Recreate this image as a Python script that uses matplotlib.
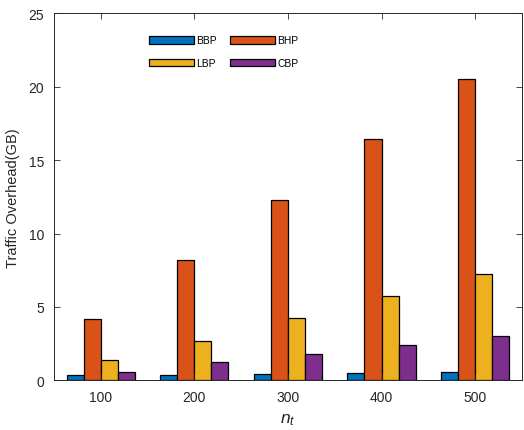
import matplotlib
matplotlib.use("Agg")
import matplotlib.pyplot as plt
import numpy as np

plt.rcParams["font.family"] = ["Liberation Sans", "DejaVu Sans"]
plt.rcParams["mathtext.fontset"] = "custom"
plt.rcParams["mathtext.it"] = "Liberation Sans:italic"
plt.rcParams["mathtext.rm"] = "Liberation Sans"

# traffic overhead per scheme for each n_t
n_t = [100, 200, 300, 400, 500]
bbp = [0.35, 0.35, 0.45, 0.50, 0.55]
bhp = [4.15, 8.20, 12.30, 16.45, 20.50]
lbp = [1.38, 2.70, 4.22, 5.77, 7.25]
cbp = [0.55, 1.23, 1.77, 2.39, 3.04]

series = [("BBP", bbp, "#0072BD"), ("BHP", bhp, "#D95319"),
          ("LBP", lbp, "#EDB120"), ("CBP", cbp, "#7E2F8E")]

fig = plt.figure(figsize=(5.24, 4.31), dpi=100)
ax = fig.add_axes([0.103, 0.115, 0.893, 0.852])

x = np.arange(1, len(n_t) + 1)
w = 0.182
handles = {}
for i, (name, vals, color) in enumerate(series):
    bars = ax.bar(x + (i - 1.5) * w, vals, width=w, color=color,
                  edgecolor="black", linewidth=0.9, label=name)
    handles[name] = bars

ax.set_xlim(0.5, 5.5)
ax.set_ylim(0, 25)
ax.set_xticks(x)
ax.set_xticklabels([str(v) for v in n_t])
ax.set_yticks(np.arange(0, 26, 5))
ax.tick_params(direction="in", length=4, width=0.6, top=True, right=True,
               labelsize=10, colors="#262626", pad=7)
for spine in ax.spines.values():
    spine.set_linewidth(0.7)
    spine.set_color("#262626")

ax.set_ylabel("Traffic Overhead(GB)", fontsize=10.5, color="#262626", labelpad=6)
ax.set_xlabel("$n_t$", fontsize=12.5, color="#262626", labelpad=5)

order = ["BBP", "LBP", "BHP", "CBP"]
ax.legend([handles[k] for k in order], order, ncol=2, frameon=False,
          loc="upper left", bbox_to_anchor=(0.185, 0.962), fontsize=7.4,
          handlelength=4.4, handleheight=0.75, handletextpad=0.2,
          columnspacing=1.3, labelspacing=1.25, borderpad=0.3)

fig.savefig("out.png", dpi=100)
